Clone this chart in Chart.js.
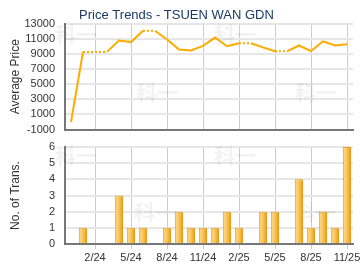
<!DOCTYPE html>
<html>
<head>
<meta charset="utf-8">
<script src="https://cdn.jsdelivr.net/npm/chart.js@4.4.1/dist/chart.umd.min.js"></script>
<style>
  body { margin: 0; background: #fff; }
  canvas { position: absolute; left: 0; }
</style>
</head>
<body>
<canvas id="priceChart" width="360" height="135" style="top:0"></canvas>
<canvas id="transChart" width="360" height="135" style="top:135px"></canvas>
<script>
// months shown on both charts (12/23 .. 11/25)
const months = ['12/23', '1/24', '2/24', '3/24', '4/24', '5/24', '6/24', '7/24', '8/24', '9/24', '10/24', '11/24',
  '12/24', '1/25', '2/25', '3/25', '4/25', '5/25', '6/25', '7/25', '8/25', '9/25', '10/25', '11/25'];
// average price per month
const avgPrice = [0, 9300, 9300, 9300, 10800, 10600, 12100, 12100, 10950, 9600, 9500, 10100,
  11200, 10050, 10450, 10450, 9900, 9380, 9380, 10150, 9400, 10700, 10150, 10300];
// number of transactions per month
const transCount = [0, 1, 0, 0, 3, 1, 1, 0, 1, 2, 1, 1, 1, 2, 1, 0, 2, 2, 0, 4, 1, 2, 1, 6];
// months that get a grid line and label
const quarterLabels = ['2/24', '5/24', '8/24', '11/24', '2/25', '5/25', '8/25', '11/25'];

const fontFamily = '"Liberation Sans", Arial, sans-serif';
const isQuarter = i => quarterLabels.includes(months[i]);

// faint watermark text behind the marks
function watermark(spots) {
  return {
    id: 'watermark',
    beforeDatasetsDraw(chart) {
      const c = chart.ctx;
      c.save();
      c.font = 'bold 21px "Noto Sans CJK SC"';
      c.fillStyle = 'rgba(0,0,0,0.05)';
      c.textAlign = 'center';
      c.textBaseline = 'middle';
      spots.forEach(p => c.fillText('科一', p[0], p[1]));
      c.restore();
    }
  };
}

// fixes the scale boxes so both plot areas line up
function fixWidth(w) {
  return scale => { scale.width = w; scale.paddingTop = 0; scale.paddingBottom = 0; };
}
function fixHeight(h) {
  return scale => { scale.height = h; scale.paddingLeft = 0; scale.paddingRight = 0; };
}

const gridX = {
  offset: false,
  color: ctx => isQuarter(ctx.index) ? '#cccccc' : 'rgba(0,0,0,0)',
  lineWidth: 1
};
const gridY = { color: '#e6e6e6', lineWidth: 2, drawTicks: false };
const border = { color: '#777777', width: 2 };
const tickFont = { family: fontFamily, size: 11 };

// price chart
new Chart(document.getElementById('priceChart'), {
  type: 'line',
  data: {
    labels: months,
    datasets: [{
      data: avgPrice,
      borderColor: '#FFAA00',
      borderWidth: 2,
      pointRadius: 0,
      tension: 0,
      segment: {
        borderDash: ctx => transCount[ctx.p1DataIndex] === 0 ? [2, 2] : undefined
      }
    }]
  },
  options: {
    responsive: false,
    animation: false,
    layout: { padding: { left: 0, right: 7, top: 0, bottom: 5.5 } },
    plugins: {
      legend: { display: false },
      tooltip: { enabled: false },
      title: {
        display: true,
        text: 'Price Trends - TSUEN WAN GDN',
        color: '#1B3A66',
        font: { family: fontFamily, size: 13, weight: 'normal' },
        padding: { top: 8, bottom: 0.4 }
      }
    },
    scales: {
      x: {
        type: 'category',
        offset: true,
        grid: { ...gridX, drawTicks: false },
        border: border,
        ticks: { display: false, autoSkip: false },
        afterFit: fixHeight(0)
      },
      y: {
        min: -1000,
        max: 13000,
        grid: gridY,
        border: border,
        ticks: {
          stepSize: 2000,
          autoSkip: false,
          padding: 10,
          color: '#333',
          font: tickFont,
          callback: v => String(v)
        },
        title: {
          display: true,
          text: 'Average Price',
          color: '#333',
          font: { family: fontFamily, size: 12 },
          padding: { top: 8, bottom: 0 }
        },
        afterFit: fixWidth(65)
      }
    }
  },
  plugins: [watermark([[76, 34], [235, 34], [157, 92], [316, 92]])]
});

// bar fill: light left edge fading to darker orange on the right
function barFill(ctx) {
  const el = ctx.chart.getDatasetMeta(0).data[ctx.dataIndex];
  if (!el || !el.width) return '#F7BE4E';
  const g = ctx.chart.ctx.createLinearGradient(el.x - el.width / 2, 0, el.x + el.width / 2, 0);
  g.addColorStop(0, '#F0A52A');
  g.addColorStop(0.15, '#FCD683');
  g.addColorStop(0.45, '#F9C75E');
  g.addColorStop(0.8, '#F0A92E');
  g.addColorStop(1, '#E0900A');
  return g;
}

const transChart = new Chart(document.getElementById('transChart'), {
  type: 'bar',
  data: {
    labels: months,
    datasets: [{
      data: transCount,
      backgroundColor: barFill,
      borderColor: '#EAA126',
      borderWidth: { top: 1, left: 1, right: 0, bottom: 0 },
      barPercentage: 0.7,
      categoryPercentage: 1
    }]
  },
  options: {
    responsive: false,
    animation: false,
    layout: { padding: { left: 0, right: 7, top: 12, bottom: 0 } },
    plugins: {
      legend: { display: false },
      tooltip: { enabled: false }
    },
    scales: {
      x: {
        type: 'category',
        offset: true,
        grid: { ...gridX, tickLength: 5 },
        border: border,
        ticks: {
          autoSkip: false,
          maxRotation: 0,
          padding: 2,
          color: '#333',
          font: tickFont,
          callback: (v, i) => isQuarter(i) ? months[i] : ''
        },
        afterFit: fixHeight(26)
      },
      y: {
        min: 0,
        max: 6,
        grid: gridY,
        border: border,
        ticks: {
          stepSize: 1,
          autoSkip: false,
          padding: 10,
          color: '#333',
          font: tickFont
        },
        title: {
          display: true,
          text: 'No. of Trans.',
          color: '#333',
          font: { family: fontFamily, size: 12 },
          padding: { top: 8, bottom: 0 }
        },
        afterFit: fixWidth(65)
      }
    }
  },
  plugins: [watermark([[76, 20], [235, 20], [155, 77], [315, 77]])]
});
// second pass so the gradients know where each bar sits
transChart.update('none');
</script>
</body>
</html>
